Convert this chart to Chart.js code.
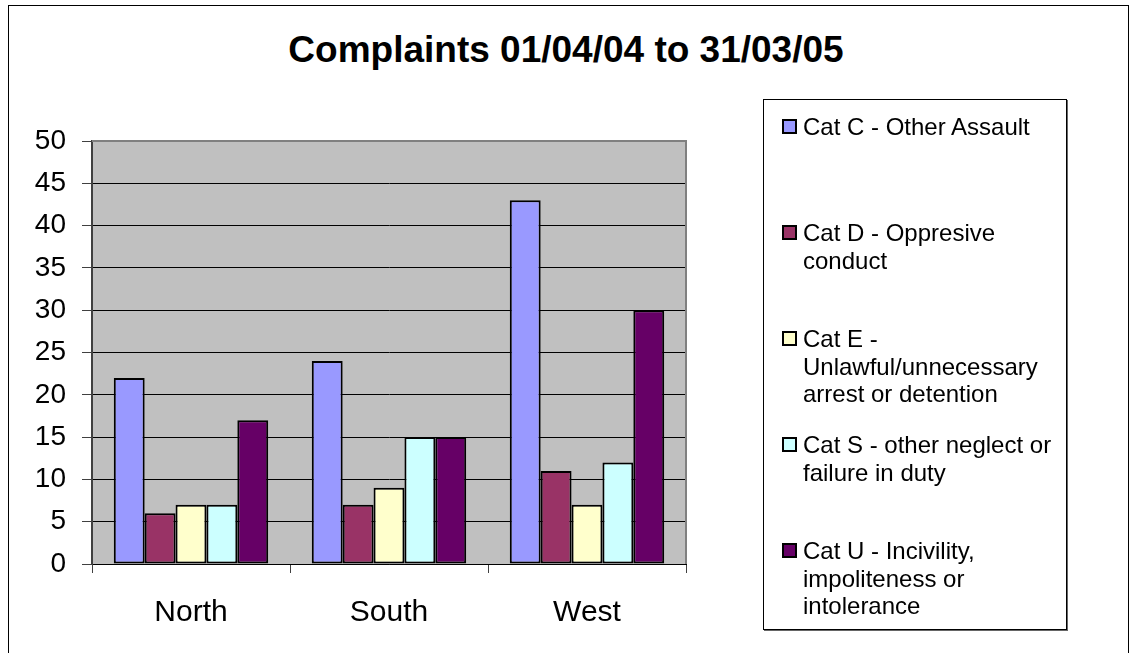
<!DOCTYPE html>
<html>
<head>
<meta charset="utf-8">
<script src="https://cdn.jsdelivr.net/npm/chart.js@4.4.1/dist/chart.umd.min.js"></script>
<style>
  html, body { margin: 0; padding: 0; background: #fff; }
  body { width: 1132px; height: 653px; position: relative; overflow: hidden;
         font-family: 'Liberation Sans', Arial, sans-serif; }
  #frame { position: absolute; left: 8px; top: 5px; width: 1121px; height: 700px;
           border: 1px solid #000; box-sizing: border-box; }
  #title { position: absolute; left: 0; top: 28px; width: 1132px; text-align: center;
           font-weight: bold; font-size: 37px; line-height: 44px; color: #000; }
  #chart { position: absolute; left: 0; top: 0; }
  #legend { position: absolute; left: 763px; top: 99px; width: 304px; height: 531px;
            border: 1px solid #000; box-shadow: 1px 1px 0 #666; box-sizing: border-box;
            background: #fff; }
  .item { position: absolute; left: 39px; width: 256px; font-size: 24px; line-height: 27.5px; color: #000; }
  .swatch { position: absolute; left: -21px; top: 6px; width: 15px; height: 15px;
            border: 2px solid #000; box-sizing: border-box; }
</style>
</head>
<body>
<div id="frame"></div>
<div id="title">Complaints 01/04/04 to 31/03/05</div>
<canvas id="chart" width="1132" height="653"></canvas>
<div id="legend"></div>
<script>
// regions on the x axis
const regions = ['North', 'South', 'West'];

// complaint counts per category, in region order
const catC = [22, 24, 43];
const catD = [6, 7, 11];
const catE = [7, 9, 7];
const catS = [7, 15, 12];
const catU = [17, 15, 30];

const seriesNames = [
  'Cat C - Other Assault',
  'Cat D - Oppresive conduct',
  'Cat E - Unlawful/unnecessary arrest or detention',
  'Cat S - other neglect or failure in duty',
  'Cat U - Incivility, impoliteness or intolerance'
];
const seriesColors = ['#9999FF', '#993366', '#FFFFCC', '#CCFFFF', '#660066'];
const seriesData = [catC, catD, catE, catS, catU];

const yMin = 0, yMax = 50, yStep = 5;

// grey plot area + grey frame on top/right, like the old Excel look
const plotBg = {
  id: 'plotBg',
  beforeDraw(chart) {
    const a = chart.chartArea, ctx = chart.ctx;
    ctx.save();
    ctx.fillStyle = '#C0C0C0';
    ctx.fillRect(a.left, a.top, a.right - a.left, a.bottom - a.top);
    ctx.restore();
  },
  afterDraw(chart) {
    const a = chart.chartArea, ctx = chart.ctx;
    ctx.save();
    ctx.strokeStyle = '#808080';
    ctx.lineWidth = 2;
    ctx.beginPath();
    ctx.moveTo(a.left, a.top);
    ctx.lineTo(a.right, a.top);
    ctx.lineTo(a.right, a.bottom);
    ctx.stroke();
    ctx.restore();
  }
};

const datasets = seriesNames.map((name, i) => ({
  label: name,
  data: seriesData[i],
  backgroundColor: seriesColors[i],
  borderColor: '#000',
  borderWidth: 2,
  borderSkipped: false,
  categoryPercentage: 0.78,
  barPercentage: 1.0
}));

new Chart(document.getElementById('chart'), {
  type: 'bar',
  data: { labels: regions, datasets },
  options: {
    responsive: false,
    animation: false,
    devicePixelRatio: 1,
    layout: { padding: { left: 8, top: 141, right: 446, bottom: 0 } },
    plugins: { legend: { display: false }, title: { display: false }, tooltip: { enabled: false } },
    scales: {
      x: {
        afterFit(s) { s.height = 89; },
        grid: { drawOnChartArea: false, offset: true, tickLength: 9, tickColor: '#404040' },
        border: { color: '#000', width: 1 },
        ticks: { color: '#000', padding: 22, font: { family: "'Liberation Sans', Arial", size: 30 } }
      },
      y: {
        min: yMin, max: yMax,
        afterFit(s) { s.width = 84; },
        grid: { color: '#000', lineWidth: 1, tickLength: 10, tickColor: '#404040' },
        border: { color: '#404040', width: 2 },
        ticks: { stepSize: yStep, color: '#000', padding: 16, font: { family: "'Liberation Sans', Arial", size: 28 } }
      }
    }
  },
  plugins: [plotBg]
});

// legend built from the same series arrays
const legend = document.getElementById('legend');
seriesNames.forEach((name, i) => {
  const item = document.createElement('div');
  item.className = 'item';
  item.style.top = (13 + i * 106) + 'px';
  const sw = document.createElement('span');
  sw.className = 'swatch';
  sw.style.background = seriesColors[i];
  item.appendChild(sw);
  item.appendChild(document.createTextNode(name));
  legend.appendChild(item);
});
</script>
</body>
</html>
